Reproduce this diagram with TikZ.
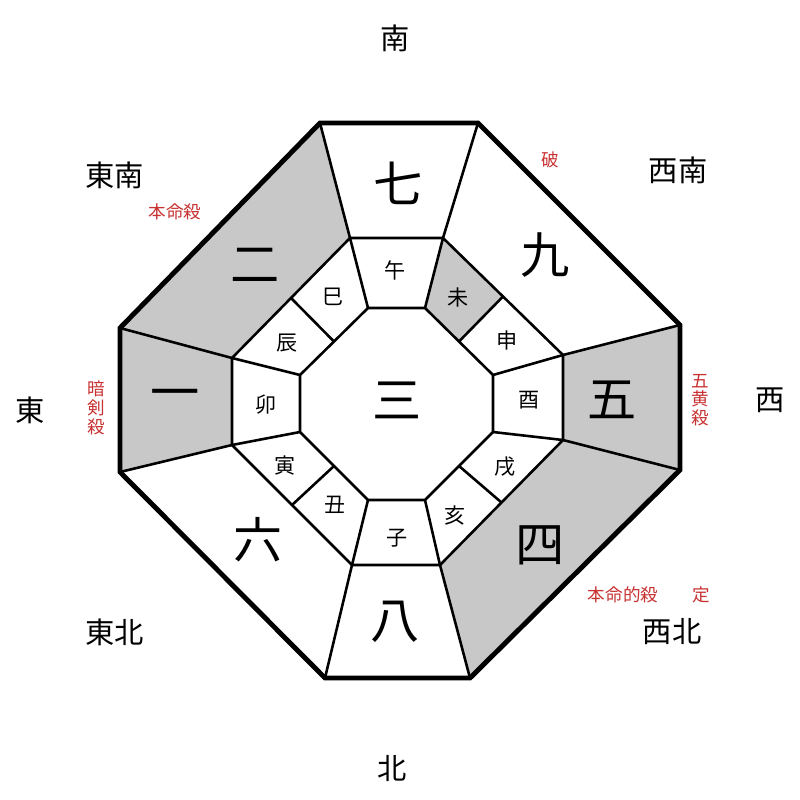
\documentclass[tikz,border=0pt]{standalone}
\usepackage{fontspec}
\usetikzlibrary{calc}
\newfontfamily\cjk{Noto Sans CJK JP}
\begin{document}
\begin{tikzpicture}[x=0.03cm,y=-0.03cm,
  big/.style={font=\cjk\fontsize{42}{42}\selectfont},
  dir/.style={font=\cjk\fontsize{25}{25}\selectfont},
  br/.style={font=\cjk\fontsize{18}{18}\selectfont},
  red/.style={font=\cjk\fontsize{15}{15}\selectfont,text=redc},
  thin/.style={line width=2.2pt},
  thick/.style={line width=4.2pt,line join=miter}]
\definecolor{redc}{RGB}{200,50,50}
\definecolor{grayc}{RGB}{200,200,200}
\useasboundingbox (0,0) rectangle (800,800);
\fill[white] (0,0) rectangle (800,800);
\coordinate (O1) at (320,123); \coordinate (O2) at (478,123);
\coordinate (O3) at (680,325); \coordinate (O4) at (680,470);
\coordinate (O5) at (470,678); \coordinate (O6) at (325,678);
\coordinate (O7) at (120,472); \coordinate (O8) at (120,328);
\coordinate (M1) at (350,238); \coordinate (M2) at (443,238);
\coordinate (M3) at (563,355); \coordinate (M4) at (563,440);
\coordinate (M5) at (440,565); \coordinate (M6) at (352,565);
\coordinate (M7) at (232,445); \coordinate (M8) at (232,358);
\coordinate (I1) at (368,308); \coordinate (I2) at (425,308);
\coordinate (I3) at (493,375); \coordinate (I4) at (493,432);
\coordinate (I5) at (425,500); \coordinate (I6) at (368,500);
\coordinate (I7) at (300,432); \coordinate (I8) at (300,375);
% gray fills
\fill[grayc] (O8)--(O1)--(M1)--(M8)--cycle;
\fill[grayc] (O7)--(O8)--(M8)--(M7)--cycle;
\fill[grayc] (O3)--(O4)--(M4)--(M3)--cycle;
\fill[grayc] (O4)--(O5)--(M5)--(M4)--cycle;
\fill[grayc] (M2)--($(M2)!0.5!(M3)$)--($(I2)!0.5!(I3)$)--(I2)--cycle;
% lines
\draw[thin] (M1)--(M2)--(M3)--(M4)--(M5)--(M6)--(M7)--(M8)--cycle;
\draw[thin] (I1)--(I2)--(I3)--(I4)--(I5)--(I6)--(I7)--(I8)--cycle;
\foreach \i in {1,...,8}{\draw[thin] (O\i)--(M\i); \draw[thin] (M\i)--(I\i);}
\draw[thin] ($(M2)!0.5!(M3)$)--($(I2)!0.5!(I3)$);
\draw[thin] ($(M4)!0.5!(M5)$)--($(I4)!0.5!(I5)$);
\draw[thin] ($(M6)!0.5!(M7)$)--($(I6)!0.5!(I7)$);
\draw[thin] ($(M8)!0.5!(M1)$)--($(I8)!0.5!(I1)$);
\draw[thick] (O1)--(O2)--(O3)--(O4)--(O5)--(O6)--(O7)--(O8)--cycle;
% big numbers
\node[big] (n7) at (398,183) {七};
\node[big] (n9) at (545,255) {九};
\node[big] (n2) at (255,265) {二};
\node[big] (n1) at (175,400) {一};
\node[big] (n5) at (612,400) {五};
\node[big] (n6) at (258,540) {六};
\node[big] (n4) at (540,545) {四};
\node[big] (n8) at (395,622) {八};
\node[big] (n3) at (397,400) {三};
% branches
\node[br] (b1) at (395,270) {午};
\node[br] (b2) at (458,297) {未};
\node[br] (b3) at (507,340) {申};
\node[br] (b4) at (529,400) {酉};
\node[br] (b5) at (505,467) {戌};
\node[br] (b6) at (455,515) {亥};
\node[br] (b7) at (397,538) {子};
\node[br] (b8) at (335,505) {丑};
\node[br] (b9) at (285,465) {寅};
\node[br] (b10) at (266,405) {卯};
\node[br] (b11) at (287,343) {辰};
\node[br] (b12) at (333,297) {巳};
% directions
\node[dir] (dS) at (395,38) {南};
\node[dir] (dSE) at (115,175) {東南};
\node[dir] (dSW) at (678,170) {西南};
\node[dir] (dE) at (30,410) {東};
\node[dir] (dW) at (770,400) {西};
\node[dir] (dNE) at (115,632) {東北};
\node[dir] (dNW) at (672,632) {西北};
\node[dir] (dN) at (392,768) {北};
% red
\node[red] (r1) at (550,160) {破};
\node[red] (r2) at (175,212) {本命殺};
\node[red,align=center] (r3) at (96,408) {暗\\[1pt]剣\\[1pt]殺};
\node[red,align=center] (r4) at (700,400) {五\\[1pt]黄\\[1pt]殺};
\node[red] (r5) at (623,595) {本命的殺};
\node[red] (r6) at (701,595) {定};
\end{tikzpicture}
\end{document}
